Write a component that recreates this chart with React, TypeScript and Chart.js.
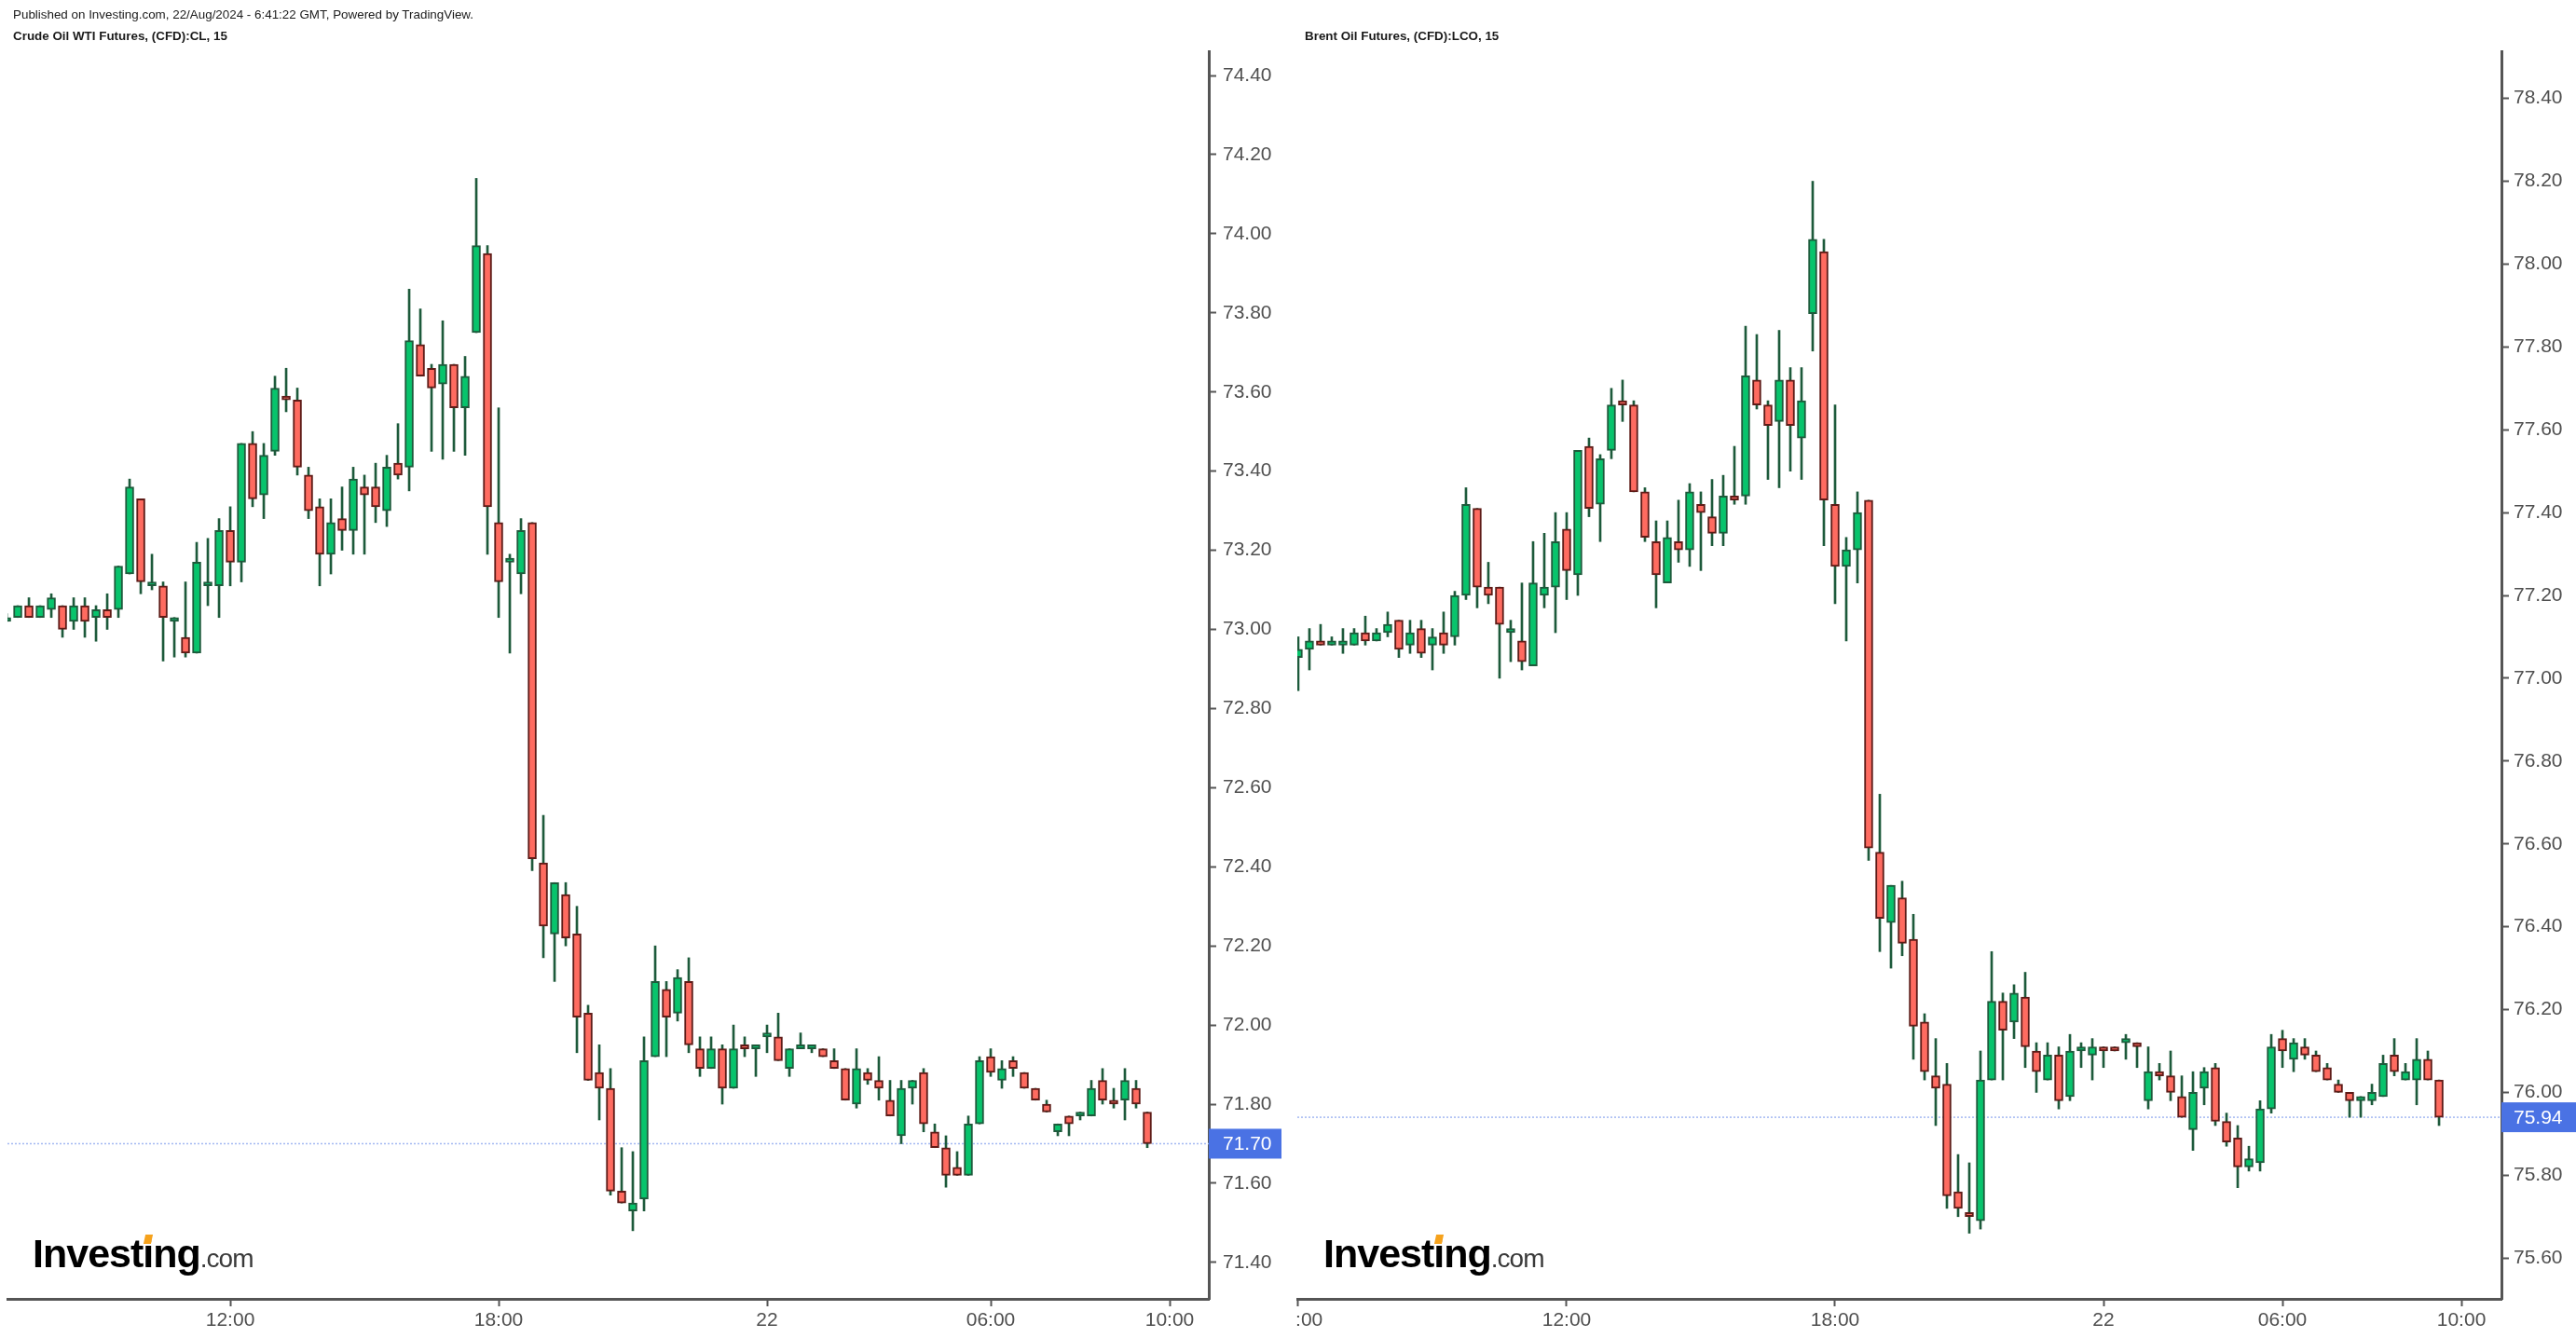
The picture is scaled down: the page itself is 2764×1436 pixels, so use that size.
import React, { useEffect, useRef } from 'react';
import { Chart, registerables } from 'chart.js';

Chart.register(...registerables);

const FONT = "'Liberation Sans', Arial, Helvetica, sans-serif";

// ---------- Crude Oil WTI Futures (left panel), 15-minute candles ----------
const wtiOpen = [
  73.02, 73.03, 73.06, 73.03, 73.05, 73.06, 73.02, 73.06, 73.03, 73.05,
  73.05, 73.14, 73.33, 73.11, 73.11, 73.02, 72.98, 72.94, 73.11, 73.11,
  73.25, 73.17, 73.47, 73.34, 73.45, 73.59, 73.58, 73.39, 73.31, 73.19,
  73.28, 73.25, 73.36, 73.36, 73.30, 73.42, 73.41, 73.72, 73.66, 73.62,
  73.67, 73.56, 73.75, 73.95, 73.27, 73.17, 73.14, 73.27, 72.41, 72.23,
  72.33, 72.23, 72.03, 71.88, 71.84, 71.58, 71.53, 71.56, 71.92, 72.09,
  72.03, 72.11, 71.94, 71.89, 71.94, 71.84, 71.95, 71.94, 71.97, 71.97,
  71.89, 71.94, 71.94, 71.94, 71.91, 71.89, 71.80, 71.88, 71.86, 71.81,
  71.72, 71.84, 71.88, 71.73, 71.69, 71.64, 71.62, 71.75, 71.92, 71.86,
  71.91, 71.88, 71.84, 71.80, 71.73, 71.77, 71.77, 71.77, 71.86, 71.81,
  71.81, 71.84, 71.78,
];
const wtiHigh = [
  73.04, 73.06, 73.08, 73.06, 73.09, 73.06, 73.08, 73.08, 73.06, 73.09,
  73.16, 73.38, 73.33, 73.19, 73.12, 73.03, 73.12, 73.22, 73.23, 73.28,
  73.31, 73.47, 73.50, 73.47, 73.64, 73.66, 73.61, 73.41, 73.33, 73.33,
  73.36, 73.41, 73.39, 73.42, 73.44, 73.52, 73.86, 73.81, 73.67, 73.78,
  73.67, 73.69, 74.14, 73.97, 73.56, 73.19, 73.28, 73.27, 72.53, 72.36,
  72.36, 72.30, 72.05, 71.95, 71.89, 71.69, 71.68, 71.97, 72.20, 72.11,
  72.14, 72.17, 71.97, 71.97, 71.95, 72.00, 71.97, 71.95, 72.00, 72.03,
  71.94, 71.98, 71.95, 71.94, 71.94, 71.89, 71.94, 71.89, 71.92, 71.86,
  71.86, 71.86, 71.89, 71.75, 71.72, 71.68, 71.77, 71.92, 71.94, 71.91,
  71.92, 71.88, 71.84, 71.81, 71.75, 71.77, 71.78, 71.86, 71.89, 71.84,
  71.89, 71.86, 71.78,
];
const wtiLow = [
  73.02, 73.03, 73.03, 73.03, 73.03, 72.98, 73.00, 72.98, 72.97, 73.00,
  73.03, 73.14, 73.09, 73.10, 72.92, 72.93, 72.93, 72.94, 73.06, 73.03,
  73.11, 73.12, 73.31, 73.28, 73.44, 73.55, 73.39, 73.28, 73.11, 73.14,
  73.20, 73.19, 73.19, 73.27, 73.26, 73.38, 73.35, 73.64, 73.45, 73.43,
  73.45, 73.44, 73.75, 73.19, 73.03, 72.94, 73.09, 72.39, 72.17, 72.11,
  72.20, 71.93, 71.86, 71.76, 71.57, 71.55, 71.48, 71.53, 71.92, 71.92,
  72.01, 71.93, 71.87, 71.89, 71.80, 71.84, 71.92, 71.87, 71.93, 71.91,
  71.87, 71.94, 71.93, 71.92, 71.89, 71.81, 71.79, 71.85, 71.81, 71.77,
  71.70, 71.80, 71.73, 71.69, 71.59, 71.62, 71.62, 71.75, 71.87, 71.84,
  71.87, 71.84, 71.81, 71.78, 71.72, 71.72, 71.76, 71.77, 71.80, 71.79,
  71.76, 71.79, 71.69,
];
const wtiClose = [
  73.03, 73.06, 73.03, 73.06, 73.08, 73.00, 73.06, 73.02, 73.05, 73.03,
  73.16, 73.36, 73.12, 73.12, 73.03, 73.03, 72.94, 73.17, 73.12, 73.25,
  73.17, 73.47, 73.33, 73.44, 73.61, 73.58, 73.41, 73.30, 73.19, 73.27,
  73.25, 73.38, 73.34, 73.31, 73.41, 73.39, 73.73, 73.64, 73.61, 73.67,
  73.56, 73.64, 73.97, 73.31, 73.12, 73.18, 73.25, 72.42, 72.25, 72.36,
  72.22, 72.02, 71.86, 71.84, 71.58, 71.55, 71.55, 71.91, 72.11, 72.02,
  72.12, 71.95, 71.89, 71.94, 71.84, 71.94, 71.94, 71.95, 71.98, 71.91,
  71.94, 71.95, 71.95, 71.92, 71.89, 71.81, 71.89, 71.86, 71.84, 71.77,
  71.84, 71.86, 71.75, 71.69, 71.62, 71.62, 71.75, 71.91, 71.88, 71.89,
  71.89, 71.84, 71.81, 71.78, 71.75, 71.75, 71.78, 71.84, 71.81, 71.80,
  71.86, 71.80, 71.70,
];
const wtiTimeIndex = [20, 44, 68, 88, 104];
const wtiTimeLabels = ['12:00', '18:00', '22', '06:00', '10:00'];
const wtiPriceTicks = [
  71.4, 71.6, 71.8, 72.0, 72.2, 72.4, 72.6, 72.8, 73.0, 73.2, 73.4, 73.6, 73.8, 74.0, 74.2, 74.4,
];
const wtiLastPrice = 71.7;

// ---------- Brent Oil Futures (right panel), 15-minute candles ----------
const brentOpen = [
  77.05, 77.07, 77.09, 77.08, 77.08, 77.08, 77.11, 77.09, 77.11, 77.14,
  77.08, 77.12, 77.08, 77.11, 77.10, 77.20, 77.41, 77.22, 77.22, 77.11,
  77.09, 77.03, 77.20, 77.22, 77.36, 77.25, 77.56, 77.42, 77.55, 77.67,
  77.66, 77.45, 77.33, 77.23, 77.33, 77.31, 77.42, 77.39, 77.35, 77.44,
  77.44, 77.72, 77.66, 77.62, 77.72, 77.58, 77.88, 78.03, 77.42, 77.27,
  77.31, 77.43, 76.58, 76.41, 76.47, 76.37, 76.17, 76.04, 76.02, 75.76,
  75.71, 75.69, 76.03, 76.22, 76.17, 76.23, 76.10, 76.03, 76.09, 75.99,
  76.10, 76.09, 76.11, 76.11, 76.12, 76.12, 75.98, 76.05, 76.04, 75.99,
  75.91, 76.01, 76.06, 75.93, 75.89, 75.82, 75.83, 75.96, 76.13, 76.08,
  76.11, 76.09, 76.06, 76.02, 76.00, 75.98, 75.98, 75.99, 76.09, 76.03,
  76.03, 76.08, 76.03,
];
const brentHigh = [
  77.10, 77.12, 77.13, 77.10, 77.12, 77.12, 77.15, 77.12, 77.16, 77.14,
  77.14, 77.14, 77.12, 77.16, 77.21, 77.46, 77.41, 77.28, 77.22, 77.14,
  77.23, 77.33, 77.35, 77.40, 77.40, 77.55, 77.58, 77.54, 77.70, 77.72,
  77.67, 77.46, 77.38, 77.38, 77.43, 77.47, 77.45, 77.48, 77.49, 77.56,
  77.85, 77.83, 77.67, 77.84, 77.75, 77.75, 78.20, 78.06, 77.66, 77.34,
  77.45, 77.43, 76.72, 76.50, 76.51, 76.43, 76.19, 76.13, 76.07, 75.85,
  75.83, 76.10, 76.34, 76.24, 76.26, 76.29, 76.12, 76.12, 76.11, 76.14,
  76.12, 76.13, 76.11, 76.11, 76.14, 76.12, 76.11, 76.07, 76.10, 76.04,
  76.05, 76.06, 76.07, 75.95, 75.92, 75.87, 75.98, 76.14, 76.15, 76.13,
  76.13, 76.10, 76.07, 76.03, 76.00, 75.99, 76.02, 76.09, 76.13, 76.07,
  76.13, 76.10, 76.03,
];
const brentLow = [
  76.97, 77.02, 77.08, 77.08, 77.06, 77.08, 77.08, 77.09, 77.10, 77.05,
  77.06, 77.05, 77.02, 77.06, 77.08, 77.19, 77.17, 77.18, 77.00, 77.04,
  77.02, 77.03, 77.17, 77.11, 77.19, 77.20, 77.39, 77.33, 77.53, 77.62,
  77.45, 77.33, 77.17, 77.23, 77.28, 77.27, 77.26, 77.32, 77.32, 77.42,
  77.42, 77.65, 77.48, 77.46, 77.50, 77.48, 77.79, 77.32, 77.18, 77.09,
  77.23, 76.56, 76.34, 76.30, 76.33, 76.08, 76.03, 75.92, 75.72, 75.70,
  75.66, 75.67, 76.03, 76.03, 76.13, 76.06, 76.00, 76.03, 75.96, 75.98,
  76.06, 76.03, 76.06, 76.10, 76.08, 76.06, 75.96, 76.03, 75.98, 75.94,
  75.86, 75.97, 75.92, 75.87, 75.77, 75.81, 75.81, 75.95, 76.06, 76.05,
  76.08, 76.05, 76.03, 76.00, 75.94, 75.94, 75.97, 75.99, 76.04, 76.03,
  75.97, 76.03, 75.92,
];
const brentClose = [
  77.07, 77.09, 77.08, 77.09, 77.09, 77.11, 77.09, 77.11, 77.13, 77.07,
  77.11, 77.06, 77.10, 77.08, 77.20, 77.42, 77.22, 77.20, 77.13, 77.12,
  77.04, 77.23, 77.22, 77.33, 77.26, 77.55, 77.41, 77.53, 77.66, 77.66,
  77.45, 77.34, 77.25, 77.34, 77.31, 77.45, 77.40, 77.35, 77.44, 77.43,
  77.73, 77.66, 77.61, 77.72, 77.61, 77.67, 78.06, 77.43, 77.27, 77.31,
  77.40, 76.59, 76.42, 76.50, 76.36, 76.16, 76.05, 76.01, 75.75, 75.72,
  75.70, 76.03, 76.22, 76.15, 76.24, 76.11, 76.05, 76.09, 75.98, 76.10,
  76.11, 76.11, 76.10, 76.10, 76.13, 76.11, 76.05, 76.04, 76.00, 75.94,
  76.00, 76.05, 75.93, 75.88, 75.82, 75.84, 75.96, 76.11, 76.10, 76.12,
  76.09, 76.05, 76.03, 76.00, 75.98, 75.99, 76.00, 76.07, 76.05, 76.05,
  76.08, 76.03, 75.94,
];
const brentTimeIndex = [0, 24, 48, 72, 88, 104];
const brentTimeLabels = ['06:00', '12:00', '18:00', '22', '06:00', '10:00'];
const brentPriceTicks = [
  75.6, 75.8, 76.0, 76.2, 76.4, 76.6, 76.8, 77.0, 77.2, 77.4, 77.6, 77.8, 78.0, 78.2, 78.4,
];
const brentLastPrice = 75.94;

// ---------- styling ----------
const GREEN = '#07c46c';
const GREEN_EDGE = '#1d5a3b';
const RED = '#ff6b60';
const RED_EDGE = '#5e1b17';
const WICK = '#1d5a3b';
const AXIS = '#555555';
const TICK_TEXT = '#4f4f4f';
const TAG = '#4a72e4';
const PRICE_LINE = '#a3b8f2';

type Spec = {
  open: number[];
  high: number[];
  low: number[];
  close: number[];
  timeIndex: number[];
  timeLabels: string[];
  priceTicks: number[];
  last: number;
  xMin: number;
  xMax: number;
  yMin: number;
  yMax: number;
  padLeft: number;
  yWidth: number;
  yPad: number;
  tagWidth: number;
  tagTextOffset: number;
};

const wtiSpec: Spec = {
  open: wtiOpen, high: wtiHigh, low: wtiLow, close: wtiClose,
  timeIndex: wtiTimeIndex, timeLabels: wtiTimeLabels, priceTicks: wtiPriceTicks,
  last: wtiLastPrice,
  xMin: 0.08, xMax: 107.5,
  yMin: 71.3078, yMax: 74.4613,
  padLeft: 8, yWidth: 93, yPad: 7, tagWidth: 78, tagTextOffset: 15,
};

const brentSpec: Spec = {
  open: brentOpen, high: brentHigh, low: brentLow, close: brentClose,
  timeIndex: brentTimeIndex, timeLabels: brentTimeLabels, priceTicks: brentPriceTicks,
  last: brentLastPrice,
  xMin: -0.08, xMax: 107.58,
  yMin: 75.5015, yMax: 78.5139,
  padLeft: 1, yWidth: 80, yPad: 5, tagWidth: 81, tagTextOffset: 13,
};

const priceTagPlugin = {
  id: 'priceTag',
  afterDraw(chart: any, _args: any, opts: any) {
    const y = chart.scales.y;
    const yy = y.getPixelForValue(opts.value);
    const ctx = chart.ctx;
    ctx.save();
    ctx.fillStyle = TAG;
    ctx.fillRect(y.left, yy - 16, opts.width, 32);
    ctx.fillStyle = '#ffffff';
    ctx.font = `21px ${FONT}`;
    ctx.textBaseline = 'middle';
    ctx.textAlign = 'left';
    ctx.fillText(opts.value.toFixed(2), y.left + opts.textOffset, yy + 1);
    ctx.restore();
  },
};

function buildChart(canvas: HTMLCanvasElement, spec: Spec) {
  const idx = spec.open.map((_, i) => i);
  const up = idx.map((i) => spec.close[i] >= spec.open[i]);
  const bodies = idx.map((i) => ({ x: i, y: [spec.open[i], spec.close[i]] }));
  const wicks = idx.map((i) => ({ x: i, y: [spec.low[i], spec.high[i]] }));

  return new Chart(canvas, {
    type: 'bar',
    data: {
      datasets: [
        {
          type: 'line',
          data: [
            { x: spec.xMin, y: spec.last },
            { x: spec.xMax, y: spec.last },
          ],
          borderColor: PRICE_LINE,
          borderWidth: 1.5,
          borderDash: [2, 2],
          pointRadius: 0,
          order: 3,
        } as any,
        {
          data: wicks,
          backgroundColor: WICK,
          borderWidth: 0,
          barThickness: 2,
          grouped: false,
          order: 2,
        } as any,
        {
          data: bodies,
          backgroundColor: up.map((u) => (u ? GREEN : RED)),
          borderColor: up.map((u) => (u ? GREEN_EDGE : RED_EDGE)),
          borderWidth: 2,
          borderSkipped: false,
          barThickness: 9,
          minBarLength: 3,
          grouped: false,
          order: 1,
        } as any,
      ],
    },
    options: {
      animation: false,
      responsive: false,
      devicePixelRatio: 1,
      events: [],
      layout: { padding: { left: spec.padLeft, top: 55, right: 0, bottom: 0 } },
      plugins: {
        legend: { display: false },
        tooltip: { enabled: false },
        title: { display: false },
        priceTag: { value: spec.last, width: spec.tagWidth, textOffset: spec.tagTextOffset },
      } as any,
      scales: {
        x: {
          type: 'linear',
          position: 'bottom',
          min: spec.xMin,
          max: spec.xMax,
          offset: false,
          grid: {
            display: true,
            offset: false,
            drawOnChartArea: false,
            drawTicks: true,
            tickLength: 8,
            tickWidth: 2,
            tickColor: AXIS,
          },
          border: { display: true, color: AXIS, width: 3 },
          ticks: {
            autoSkip: false,
            maxRotation: 0,
            minRotation: 0,
            color: TICK_TEXT,
            font: { family: FONT, size: 21 },
            padding: 3,
            callback: (_v: any, i: number) => spec.timeLabels[i],
          },
          afterBuildTicks: (s: any) => {
            s.ticks = spec.timeIndex.map((v) => ({ value: v }));
          },
          afterFit: (s: any) => {
            s.height = 42;
            s.paddingLeft = 0;
            s.paddingRight = 0;
          },
        } as any,
        y: {
          type: 'linear',
          position: 'right',
          min: spec.yMin,
          max: spec.yMax,
          grid: {
            display: true,
            drawOnChartArea: false,
            drawTicks: true,
            tickLength: 8,
            tickWidth: 2,
            tickColor: AXIS,
          },
          border: { display: true, color: AXIS, width: 3 },
          ticks: {
            color: TICK_TEXT,
            font: { family: FONT, size: 21 },
            padding: spec.yPad,
            callback: (v: any) => Number(v).toFixed(2),
          },
          afterBuildTicks: (s: any) => {
            s.ticks = spec.priceTicks.map((v) => ({ value: v }));
          },
          afterFit: (s: any) => {
            s.width = spec.yWidth;
            s.paddingTop = 0;
            s.paddingBottom = 0;
          },
        } as any,
      },
    },
    plugins: [priceTagPlugin as any],
  } as any);
}

function CandleChart({ spec, left, width }: { spec: Spec; left: number; width: number }) {
  const ref = useRef<HTMLCanvasElement>(null);
  useEffect(() => {
    const chart = buildChart(ref.current as HTMLCanvasElement, spec);
    return () => chart.destroy();
  }, [spec]);
  return (
    <canvas
      ref={ref}
      width={width}
      height={1436}
      style={{ position: 'absolute', left, top: 0, width, height: 1436, display: 'block' }}
    />
  );
}

function Logo({ left }: { left: number }) {
  return (
    <div
      style={{
        position: 'absolute',
        left,
        top: 1320,
        height: 50,
        lineHeight: '50px',
        fontSize: 43,
        whiteSpace: 'nowrap',
        color: '#000',
      }}
    >
      <span style={{ fontWeight: 'bold', letterSpacing: -1 }}>
        Invest
        <span style={{ position: 'relative' }}>
          i
          <span
            style={{
              position: 'absolute',
              left: 2,
              top: 4,
              width: 8,
              height: 10,
              background: '#f6a21c',
              transform: 'skewX(-12deg)',
            }}
          />
        </span>
        ng
      </span>
      <span style={{ fontSize: 28, letterSpacing: -1, color: '#3a3a3a' }}>.com</span>
    </div>
  );
}

export default function App() {
  const textBase: React.CSSProperties = {
    position: 'absolute',
    fontSize: 13.4,
    lineHeight: '15px',
    whiteSpace: 'nowrap',
    color: '#1a1a1a',
  };
  return (
    <div
      style={{
        position: 'absolute',
        left: 0,
        top: 0,
        width: 2764,
        height: 1436,
        background: '#ffffff',
        overflow: 'hidden',
        fontFamily: FONT,
      }}
    >
      <CandleChart spec={wtiSpec} left={0} width={1390} />
      <CandleChart spec={brentSpec} left={1391} width={1373} />
      <div style={{ ...textBase, left: 14, top: 8 }}>
        Published on Investing.com, 22/Aug/2024 - 6:41:22 GMT, Powered by TradingView.
      </div>
      <div style={{ ...textBase, left: 14, top: 31, fontWeight: 'bold' }}>
        Crude Oil WTI Futures, (CFD):CL, 15
      </div>
      <div style={{ ...textBase, left: 1400, top: 31, fontWeight: 'bold' }}>
        Brent Oil Futures, (CFD):LCO, 15
      </div>
      <Logo left={35} />
      <Logo left={1420} />
    </div>
  );
}
